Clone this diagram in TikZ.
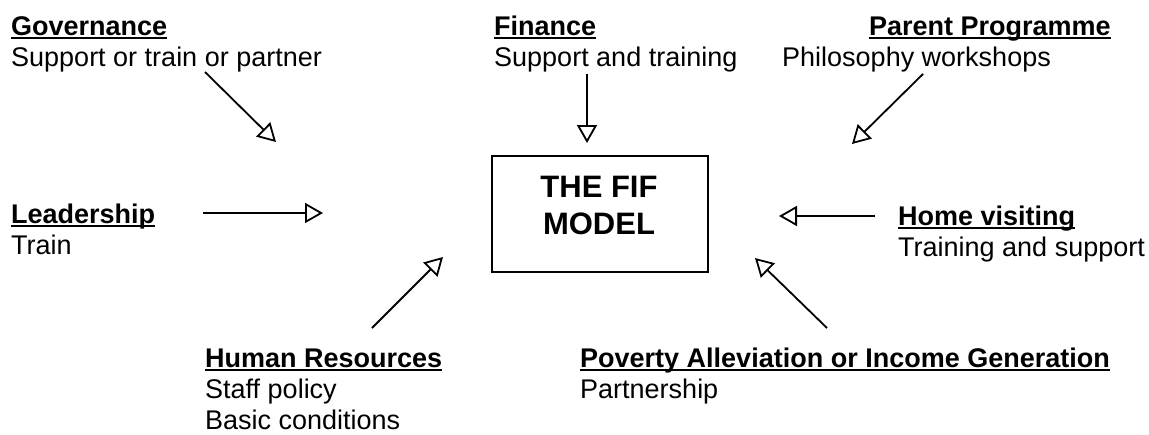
\documentclass[tikz,border=0pt]{standalone}
\usepackage{fontspec}
\setmainfont{Liberation Sans}
\usetikzlibrary{arrows.meta}
\newcommand\myul[1]{\setbox0\hbox{#1}\rlap{\rule[-4pt]{\wd0}{1.8pt}}\box0}
\begin{document}
\begin{tikzpicture}[x=1pt,y=-1pt,
  lbl/.style={anchor=base west, inner sep=0pt, font=\fontsize{27}{31}\selectfont},
  conn/.style={line width=1.8pt, -{Triangle[open, length=18pt, width=20pt, line width=1.8pt, fill=white]}}]
\useasboundingbox (0,0) rectangle (1149,434);
% labels (one node per line, placed by baseline)
\node[lbl] (gov) at (11,35) {\myul{\textbf{Governance}}};
\node[lbl] (govs) at (11,66) {Support or train or partner};
\node[lbl] (fin) at (494,35) {\myul{\textbf{Finance}}};
\node[lbl] (fins) at (494,66) {Support and training};
\node[lbl] (par) at (869,35) {\myul{\textbf{Parent Programme}}};
\node[lbl] (phi) at (782,66) {Philosophy workshops};
\node[lbl] (lea) at (11,223) {\myul{\textbf{Leadership}}};
\node[lbl] (leas) at (11,254) {Train};
\node[lbl] (hom) at (898,225) {\myul{\textbf{Home visiting}}};
\node[lbl] (homs) at (898,256) {Training and support};
\node[lbl] (hum) at (205,367) {\myul{\textbf{Human Resources}}};
\node[lbl] (hums) at (205,398) {Staff policy};
\node[lbl] (humt) at (205,429) {Basic conditions};
\node[lbl] (pov) at (580,367) {\myul{\textbf{Poverty Alleviation or Income Generation}}};
\node[lbl] (povs) at (580,398) {Partnership};
% central box
\node[draw, line width=1.8pt, minimum width=216pt, minimum height=116pt, anchor=north west, inner sep=0pt] (box) at (491,155) {};
\node[anchor=base, inner sep=0pt, font=\fontsize{31}{37}\selectfont\bfseries] (boxa) at (599,197) {THE FIF};
\node[anchor=base, inner sep=0pt, font=\fontsize{31}{37}\selectfont\bfseries] (boxb) at (599,234) {MODEL};
% arrow end points
\coordinate (g1) at (205,72);  \coordinate (g2) at (276,142);
\coordinate (f1) at (587,74);  \coordinate (f2) at (587,143);
\coordinate (p1) at (923,74);  \coordinate (p2) at (852,144);
\coordinate (l1) at (203,213); \coordinate (l2) at (323,213);
\coordinate (h1) at (875,216); \coordinate (h2) at (779,216);
\coordinate (r1) at (372,328); \coordinate (r2) at (443,257);
\coordinate (v1) at (827,328); \coordinate (v2) at (755,258);
\draw[conn] (g1) -- (g2);
\draw[conn] (f1) -- (f2);
\draw[conn] (p1) -- (p2);
\draw[conn] (l1) -- (l2);
\draw[conn] (h1) -- (h2);
\draw[conn] (r1) -- (r2);
\draw[conn] (v1) -- (v2);
\end{tikzpicture}
\end{document}
